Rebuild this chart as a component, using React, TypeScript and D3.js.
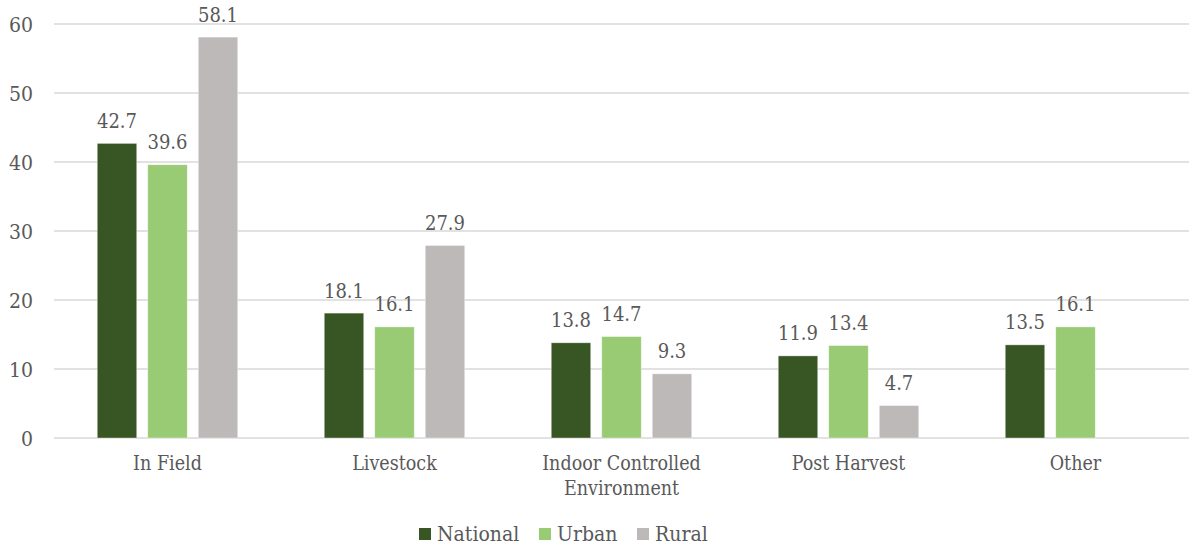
import React from "react";
import * as d3 from "d3";

const categories = ["In Field", "Livestock", "Indoor Controlled Environment", "Post Harvest", "Other"];
const categoryLines = [["In Field"], ["Livestock"], ["Indoor Controlled", "Environment"], ["Post Harvest"], ["Other"]];
const seriesNames = ["National", "Urban", "Rural"];
const national = [42.7, 18.1, 13.8, 11.9, 13.5];
const urban = [39.6, 16.1, 14.7, 13.4, 16.1];
const rural: (number | null)[] = [58.1, 27.9, 9.3, 4.7, null];
const yTicks = [0, 10, 20, 30, 40, 50, 60];
const colors = ["#375623", "#99CA74", "#BDB9B8"];

const W = 1189;
const H = 546;
const left = 54;
const right = 1189;
const top = 24;
const bottom = 438;
const groupWidth = 140.5;
const textStyle: React.CSSProperties = {
  fontFamily: "'DejaVu Serif Condensed', 'DejaVu Serif', serif",
  fontStretch: "condensed",
};
const textColor = "#595959";

export default function App() {
  const x = d3.scaleBand<string>().domain(categories).range([left, right]).paddingInner(0).paddingOuter(0);
  const y = d3.scaleLinear().domain([0, 60]).range([bottom, top]);
  const inner = d3
    .scaleBand<string>()
    .domain(seriesNames)
    .range([0, groupWidth])
    .paddingInner(0.218)
    .paddingOuter(0);
  const groupOffset = (x.bandwidth() - groupWidth) / 2;
  const series = [national, urban, rural];

  return (
    <svg width={W} height={H} style={{ position: "absolute", left: 0, top: 0, background: "#fff" }}>
      {yTicks.map((t) => (
        <g key={t}>
          <line x1={left} x2={right} y1={y(t)} y2={y(t)} stroke="#d9d9d9" strokeWidth={1.5} />
          <text x={33} y={y(t) + 7.5} textAnchor="end" style={textStyle} fontSize={21} fill={textColor}>
            {t}
          </text>
        </g>
      ))}
      {categories.map((c, ci) => (
        <g key={c}>
          {series.map((vals, si) => {
            const v = vals[ci];
            if (v == null) return null;
            const bx = (x(c) as number) + groupOffset + (inner(seriesNames[si]) as number);
            const bw = inner.bandwidth();
            return (
              <g key={si}>
                <rect x={bx} y={y(v)} width={bw} height={y(0) - y(v)} fill={colors[si]} stroke="#ffffff" strokeOpacity={0.5} strokeWidth={0.75} />
                <text x={bx + bw / 2} y={y(v) - 15.5} textAnchor="middle" style={textStyle} fontSize={20} fill={textColor}>
                  {v.toFixed(1)}
                </text>
              </g>
            );
          })}
          {categoryLines[ci].map((ln, li) => (
            <text
              key={li}
              x={(x(c) as number) + x.bandwidth() / 2}
              y={470 + li * 25}
              textAnchor="middle"
              style={textStyle}
              fontSize={19.5}
              fill={textColor}
            >
              {ln}
            </text>
          ))}
        </g>
      ))}
      {seriesNames.map((s, i) => {
        const lx = [419, 539, 637][i];
        return (
          <g key={s}>
            <rect x={lx} y={528} width={12} height={12} fill={colors[i]} />
            <text x={lx + 18} y={541} style={textStyle} fontSize={21} fill={textColor}>
              {s}
            </text>
          </g>
        );
      })}
    </svg>
  );
}
